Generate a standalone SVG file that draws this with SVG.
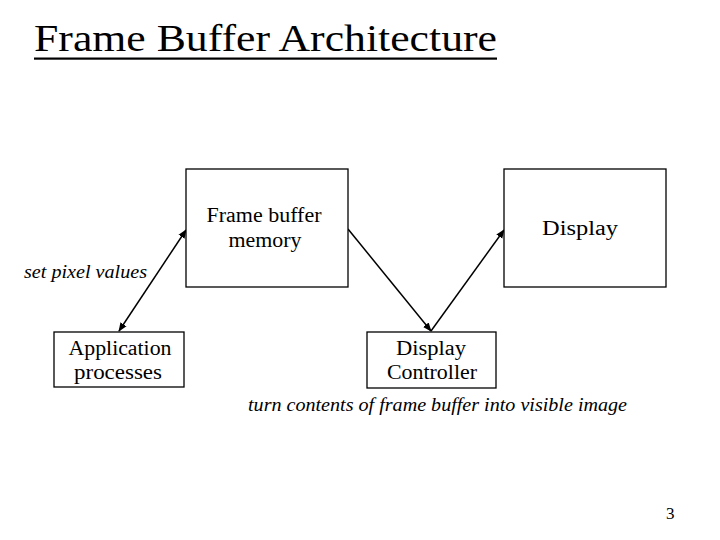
<svg xmlns="http://www.w3.org/2000/svg" width="720" height="540" viewBox="0 0 720 540">
<style>
text{font-family:"Liberation Serif","DejaVu Serif",serif;fill:#000}
.n{font-size:20.5px;text-anchor:middle}
.i{font-size:18.5px;font-style:italic}
.box{fill:#fff;stroke:#000;stroke-width:1.3}
.c{stroke:#000;stroke-width:1.5;fill:none}
</style>
<defs>
<marker id="ah" viewBox="0 0 10 10" refX="9" refY="5" markerWidth="6" markerHeight="6" orient="auto-start-reverse">
<path d="M0,1 L10,5 L0,9 z" fill="#000"/>
</marker>
</defs>
<rect width="720" height="540" fill="#fff"/>
<g id="title">
<text x="34" y="51" font-size="38" textLength="463" lengthAdjust="spacingAndGlyphs">Frame Buffer Architecture</text>
<rect x="34" y="57.5" width="463" height="2.2" fill="#000"/>
</g>
<g id="connectors">
<line class="c" x1="119" y1="331" x2="186" y2="230" marker-start="url(#ah)" marker-end="url(#ah)"/>
<line class="c" x1="348" y1="229" x2="431" y2="331" marker-end="url(#ah)"/>
<line class="c" x1="431" y1="331" x2="504" y2="230" marker-end="url(#ah)"/>
</g>
<g id="fbm">
<rect class="box" x="186" y="169" width="162" height="118"/>
<text class="n" x="264" y="222" textLength="115" lengthAdjust="spacingAndGlyphs">Frame buffer</text>
<text class="n" x="265" y="247" textLength="73" lengthAdjust="spacingAndGlyphs">memory</text>
</g>
<g id="display">
<rect class="box" x="504" y="169" width="162" height="118"/>
<text class="n" x="580" y="235" textLength="76" lengthAdjust="spacingAndGlyphs">Display</text>
</g>
<g id="controller">
<rect class="box" x="367" y="332" width="129" height="56"/>
<text class="n" x="431" y="355" textLength="70" lengthAdjust="spacingAndGlyphs">Display</text>
<text class="n" x="432" y="379" textLength="90" lengthAdjust="spacingAndGlyphs">Controller</text>
</g>
<g id="app">
<rect class="box" x="54" y="332" width="130" height="55"/>
<text class="n" x="120" y="355" textLength="103" lengthAdjust="spacingAndGlyphs">Application</text>
<text class="n" x="118" y="379" textLength="88" lengthAdjust="spacingAndGlyphs">processes</text>
</g>
<g id="labels">
<text class="i" x="24" y="278" textLength="123" lengthAdjust="spacingAndGlyphs">set pixel values</text>
<text class="i" x="248" y="411" textLength="379" lengthAdjust="spacingAndGlyphs">turn contents of frame buffer into visible image</text>
<text x="666" y="519" font-size="17">3</text>
</g>
</svg>
